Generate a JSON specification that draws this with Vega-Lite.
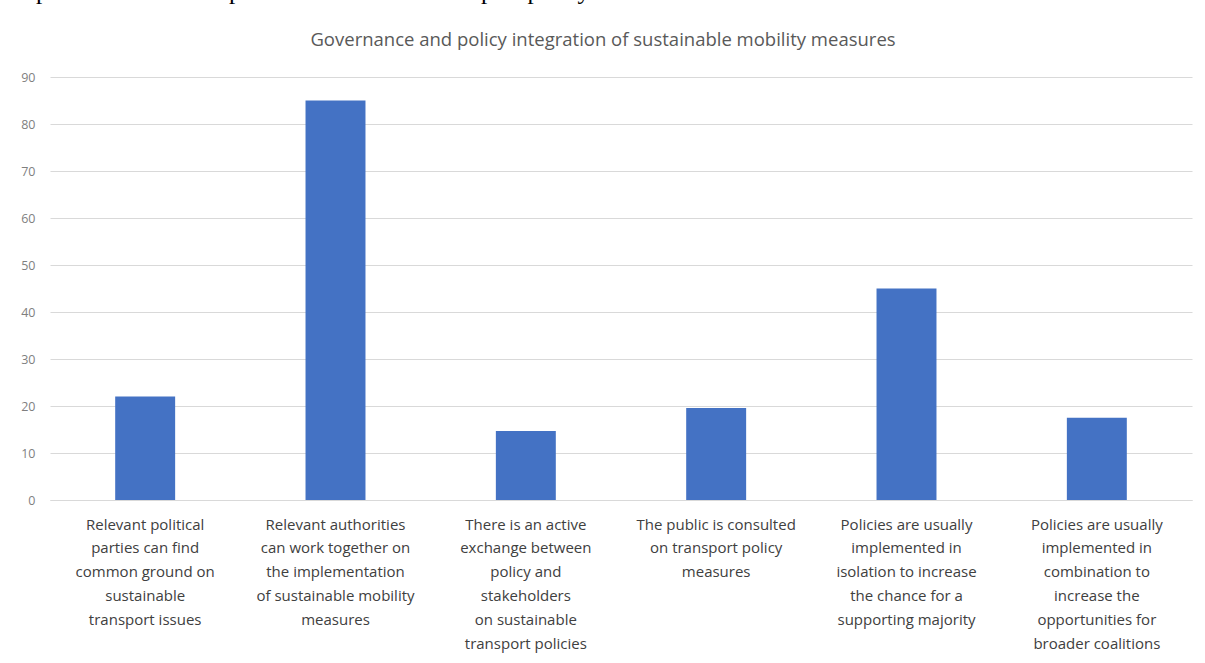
{
  "$schema": "https://vega.github.io/schema/vega-lite/v6.json",
  "autosize": {"type": "none"},
  "padding": {"left": 50, "top": 77, "right": 13, "bottom": 163},
  "width": 1142,
  "height": 423,
  "background": "white",
  "title": {
    "text": "cooperate with counterparts on sustainable transport policy.",
    "anchor": "start",
    "frame": "group",
    "font": "Liberation Serif",
    "fontSize": 25,
    "fontWeight": "normal",
    "color": "#000000",
    "baseline": "alphabetic",
    "offset": 28,
    "dx": -50,
    "dy": 22
  },
  "data": {
    "values": [
      {"statement": "Relevant political|parties can find|common ground on|sustainable|transport issues", "value": 22},
      {"statement": "Relevant authorities|can work together on|the implementation|of sustainable mobility|measures", "value": 85},
      {"statement": "There is an active|exchange between|policy and|stakeholders|on sustainable|transport policies", "value": 14.7},
      {"statement": "The public is consulted|on transport policy|measures", "value": 19.6},
      {"statement": "Policies are usually|implemented in|isolation to increase|the chance for a|supporting majority", "value": 45},
      {"statement": "Policies are usually|implemented in|combination to|increase the|opportunities for|broader coalitions", "value": 17.5}
    ]
  },
  "mark": {"type": "bar", "color": "#4472C4"},
  "encoding": {
    "x": {
      "field": "statement",
      "type": "nominal",
      "sort": null,
      "scale": {"paddingInner": 0.685, "paddingOuter": 0.3425},
      "axis": {
        "title": null,
        "labelAngle": 0,
        "labelExpr": "split(datum.label, '|')",
        "labelFont": "Open Sans",
        "labelFontSize": 15,
        "labelLineHeight": 23.8,
        "labelColor": "#404040",
        "labelPadding": 17,
        "labelBaseline": "top",
        "labelLimit": 300,
        "labelOverlap": false,
        "labelFlush": false,
        "ticks": false,
        "domain": true,
        "domainColor": "#D9D9D9",
        "domainWidth": 1,
        "grid": false
      }
    },
    "y": {
      "field": "value",
      "type": "quantitative",
      "scale": {"domain": [0, 90], "nice": false},
      "axis": {
        "values": [0, 10, 20, 30, 40, 50, 60, 70, 80, 90],
        "title": "Governance and policy integration of sustainable mobility measures",
        "titleAngle": 0,
        "titleX": 552.5,
        "titleY": -32,
        "titleAlign": "center",
        "titleBaseline": "alphabetic",
        "titleFont": "Open Sans",
        "titleFontSize": 18.5,
        "titleFontWeight": "normal",
        "titleColor": "#595959",
        "labelFont": "Open Sans",
        "labelFontSize": 12.5,
        "labelColor": "#7F7F7F",
        "labelPadding": 15,
        "ticks": false,
        "domain": false,
        "grid": true,
        "gridColor": "#D9D9D9",
        "gridWidth": 1
      }
    }
  },
  "config": {"view": {"stroke": null}}
}
